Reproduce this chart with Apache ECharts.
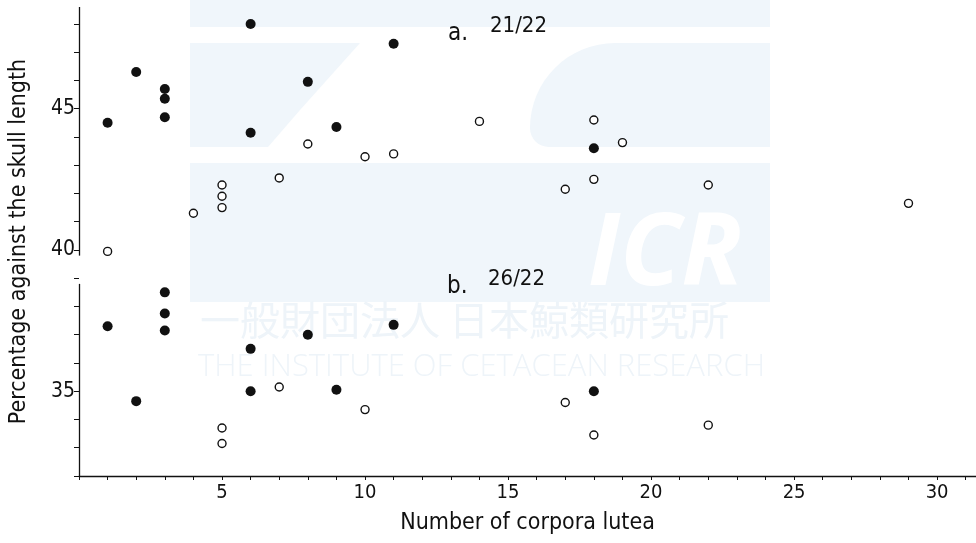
<!DOCTYPE html>
<html>
<head>
<meta charset="utf-8">
<script src="https://cdn.jsdelivr.net/npm/echarts@6/dist/echarts.min.js"></script>
<style>
html, body { margin: 0; padding: 0; background: #fff; }
#chart { width: 976px; height: 543px; }
</style>
</head>
<body>
<div id="chart"></div>
<script>
// a. 21/22 (upper group) and b. 26/22 (lower group), [corpora lutea, %]
const filledA = [[1, 44.5], [2, 46.3], [3, 45.7], [3, 45.35], [3, 44.7], [6, 48.0], [6, 44.15], [8, 45.95], [9, 44.35], [11, 47.3], [18, 43.6]]
const openA = [[1, 39.95], [4, 41.3], [5, 42.3], [5, 41.9], [5, 41.5], [7, 42.55], [8, 43.75], [10, 43.3], [11, 43.4], [14, 44.55], [17, 42.15], [18, 44.6], [18, 42.5], [19, 43.8], [22, 42.3], [29, 41.65]]
const filledB = [[1, 37.3], [2, 34.65], [3, 38.5], [3, 37.75], [3, 37.15], [6, 36.5], [6, 35.0], [8, 37.0], [9, 35.05], [11, 37.35], [18, 35.0]]
const openB = [[5, 33.7], [5, 33.15], [7, 35.15], [10, 34.35], [17, 34.6], [18, 33.45], [22, 33.8]]

const xTickLabels = [5, 10, 15, 20, 25, 30]
const yTickLabels = [35, 40, 45]
// the y axis line is broken just under 40
const yAxisSegments = [[32, 38.8], [39.8, 48.6]]

const FONT = '"DejaVu Sans Condensed", "Liberation Sans Narrow", sans-serif'
const INK = '#111'
const WM = '#f0f6fb'
const WM_TEXT = '#eef4f9'

const myChart = echarts.init(document.getElementById('chart'))

const filledStyle = { color: INK, opacity: 1 }
const openStyle = { color: '#fff', borderColor: INK, borderWidth: 1.4, opacity: 1 }

const option = {
  animation: false,
  backgroundColor: '#fff',
  grid: { left: 79, right: 0, top: 7, bottom: 67 },
  xAxis: {
    type: 'value',
    min: 0,
    max: 31.36,
    interval: 1,
    name: 'Number of corpora lutea',
    nameLocation: 'middle',
    nameGap: 36,
    nameTextStyle: { fontFamily: FONT, fontSize: 23, color: INK },
    axisLine: { show: true, lineStyle: { color: INK, width: 1.3 } },
    axisTick: { show: true, length: 4, lineStyle: { color: INK } },
    axisLabel: {
      fontFamily: FONT,
      fontSize: 20,
      color: INK,
      margin: 7,
      showMaxLabel: false,
      formatter: v => (xTickLabels.includes(v) ? String(v) : '')
    },
    splitLine: { show: false }
  },
  yAxis: {
    type: 'value',
    min: 32,
    max: 48.6,
    interval: 1,
    name: 'Percentage against the skull length',
    nameLocation: 'middle',
    nameGap: 48,
    nameTextStyle: { fontFamily: FONT, fontSize: 23, color: INK },
    axisLine: { show: false },
    axisTick: { show: true, length: 5, lineStyle: { color: INK } },
    axisLabel: {
      fontFamily: FONT,
      fontSize: 21,
      color: INK,
      margin: 4,
      showMaxLabel: false,
      formatter: v => (yTickLabels.includes(v) ? String(v) : '')
    },
    splitLine: { show: false }
  },
  graphic: [
    // faint watermark of the source scan
    { type: 'rect', z: -10, silent: true, shape: { x: 190, y: 0, width: 580, height: 27 }, style: { fill: WM } },
    { type: 'polygon', z: -10, silent: true, shape: { points: [[190, 43], [360, 43], [300, 110], [268, 147], [190, 147]] }, style: { fill: WM } },
    { type: 'rect', z: -10, silent: true, shape: { x: 530, y: 43, width: 240, height: 104, r: [90, 0, 0, 20] }, style: { fill: WM } },
    { type: 'rect', z: -10, silent: true, shape: { x: 190, y: 163, width: 580, height: 139 }, style: { fill: WM } },
    { type: 'text', z: -9, silent: true, left: 588, top: 207, style: { text: 'ICR', fill: '#fff', font: 'italic bold 100px "Open Sans", sans-serif' } },
    { type: 'text', z: -9, silent: true, left: 200, top: 300, style: { text: '一般財団法人 日本鯨類研究所', fill: WM_TEXT, font: '40px "Noto Sans CJK JP", sans-serif' } },
    { type: 'text', z: -9, silent: true, left: 198, top: 352, style: { text: 'THE INSTITUTE OF CETACEAN RESEARCH', fill: WM_TEXT, font: '300 31px "Open Sans", sans-serif' } },
    // panel captions
    { type: 'text', left: 448, top: 22, style: { text: 'a.', fill: INK, font: '24px ' + FONT } },
    { type: 'text', left: 490, top: 15, style: { text: '21/22', fill: INK, font: '22px ' + FONT } },
    { type: 'text', left: 447, top: 275, style: { text: 'b.', fill: INK, font: '24px ' + FONT } },
    { type: 'text', left: 488, top: 268, style: { text: '26/22', fill: INK, font: '22px ' + FONT } }
  ],
  series: [
    {
      name: 'a filled',
      type: 'scatter',
      symbolSize: 10,
      itemStyle: filledStyle,
      data: filledA,
      markLine: {
        silent: true,
        symbol: ['none', 'none'],
        label: { show: false },
        lineStyle: { color: INK, width: 1.3, type: 'solid', opacity: 1 },
        data: yAxisSegments.map(s => [{ coord: [0, s[0]] }, { coord: [0, s[1]] }])
      }
    },
    { name: 'a open', type: 'scatter', symbolSize: 8, itemStyle: openStyle, data: openA },
    { name: 'b filled', type: 'scatter', symbolSize: 10, itemStyle: filledStyle, data: filledB },
    { name: 'b open', type: 'scatter', symbolSize: 8, itemStyle: openStyle, data: openB }
  ]
}

myChart.setOption(option)
</script>
</body>
</html>
